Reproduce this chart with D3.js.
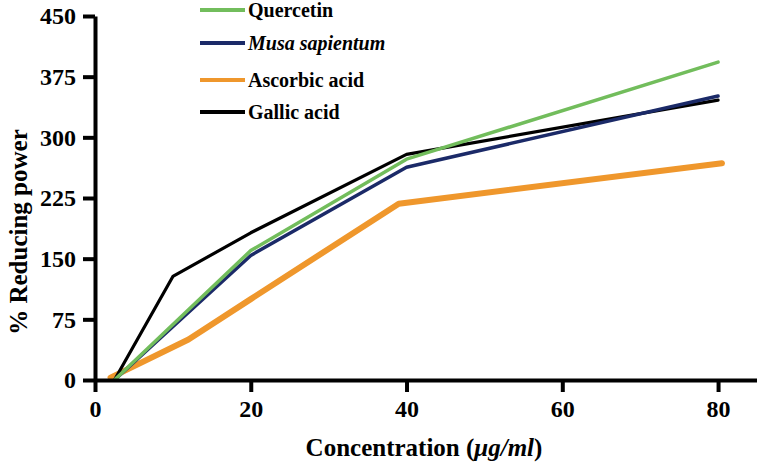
<!DOCTYPE html>
<html>
<head>
<meta charset="utf-8">
<script src="https://cdn.jsdelivr.net/npm/d3@7"></script>
<style>
  html, body { margin: 0; padding: 0; background: #fff; }
  svg { display: block; }
  text { font-family: "Liberation Serif", Tinos, "Times New Roman", Times, "DejaVu Serif", serif; font-weight: bold; fill: #000; }
</style>
</head>
<body>
<svg id="chart" width="757" height="465"></svg>
<script>
// ---- data ----
const seriesNames = ["Quercetin", "Musa sapientum", "Ascorbic acid", "Gallic acid"];
const quercetinX = [2.5, 20, 40, 80];
const quercetinY = [0, 160, 273, 393];
const musaX = [2.5, 20, 40, 80];
const musaY = [0, 154, 263, 351];
const ascorbicX = [2, 12, 20, 39, 80.5];
const ascorbicY = [3, 50, 100, 218, 268];
const gallicX = [2.5, 10, 20, 40, 80];
const gallicY = [0, 128, 182, 279, 346];
const xTicks = [0, 20, 40, 60, 80];
const yTicks = [0, 75, 150, 225, 300, 375, 450];

const FONT = '"Liberation Serif", Tinos, "Times New Roman", Times, "DejaVu Serif", serif';
const colors = {
  "Quercetin": "#72bd5c",
  "Musa sapientum": "#1b2a68",
  "Ascorbic acid": "#ef972c",
  "Gallic acid": "#000000"
};
const widths = {
  "Quercetin": 3.5,
  "Musa sapientum": 3.5,
  "Ascorbic acid": 6,
  "Gallic acid": 3.2
};

const svg = d3.select("#chart");
const x = d3.scaleLinear().domain([0, 85]).range([95, 757]);
const y = d3.scaleLinear().domain([0, 450]).range([380, 16]);

// ---- series ----
const data = {
  "Quercetin": quercetinX.map((v, i) => [v, quercetinY[i]]),
  "Musa sapientum": musaX.map((v, i) => [v, musaY[i]]),
  "Ascorbic acid": ascorbicX.map((v, i) => [v, ascorbicY[i]]),
  "Gallic acid": gallicX.map((v, i) => [v, gallicY[i]])
};
const line = d3.line().x(d => x(d[0])).y(d => y(d[1]));
const drawOrder = ["Ascorbic acid", "Gallic acid", "Musa sapientum", "Quercetin"];
svg.append("g").selectAll("path").data(drawOrder).join("path")
  .attr("d", k => line(data[k]))
  .attr("fill", "none")
  .attr("stroke", k => colors[k])
  .attr("stroke-width", k => widths[k])
  .attr("stroke-linejoin", "round")
  .attr("stroke-linecap", "round");

// ---- axes ----
const yAxis = d3.axisLeft(y).tickValues(yTicks).tickSize(12).tickSizeOuter(0).tickPadding(7);
const gy = svg.append("g").attr("transform", `translate(${x(0)},0)`).call(yAxis);
const xAxis = d3.axisBottom(x).tickValues(xTicks).tickSize(12).tickSizeOuter(0).tickPadding(8);
const gx = svg.append("g").attr("transform", `translate(0,${y(0)})`).call(xAxis);
[gx, gy].forEach(g => {
  g.attr("font-family", FONT).attr("font-size", 24);
  g.select(".domain").attr("stroke", "#000").attr("stroke-width", 4);
  g.selectAll(".tick line").attr("stroke", "#000").attr("stroke-width", 4);
  g.selectAll(".tick text").style("font-size", "24px")
    .style("font-family", FONT).style("font-weight", "bold").attr("fill", "#000");
});

// ---- axis titles ----
const xt = svg.append("text").attr("x", 424).attr("y", 456).attr("text-anchor", "middle")
  .style("font-size", "25px");
xt.append("tspan").text("Concentration (");
xt.append("tspan").style("font-style", "italic").text("\u03bcg/ml");
xt.append("tspan").text(")");

svg.append("text").attr("transform", "translate(27,232) rotate(-90)")
  .attr("text-anchor", "middle").style("font-size", "25px").text("% Reducing power");

// ---- legend ----
const legendY = [10, 43, 80, 112];
const lg = svg.append("g").selectAll("g").data(seriesNames).join("g")
  .attr("transform", (d, i) => `translate(200,${legendY[i]})`);
lg.append("line").attr("x1", 0).attr("x2", 45).attr("y1", 0).attr("y2", 0)
  .attr("stroke", d => colors[d]).attr("stroke-width", 4);
lg.append("text").attr("x", 48).attr("y", 7)
  .style("font-size", "20px")
  .style("font-style", d => d === "Musa sapientum" ? "italic" : "normal")
  .text(d => d);
</script>
</body>
</html>
